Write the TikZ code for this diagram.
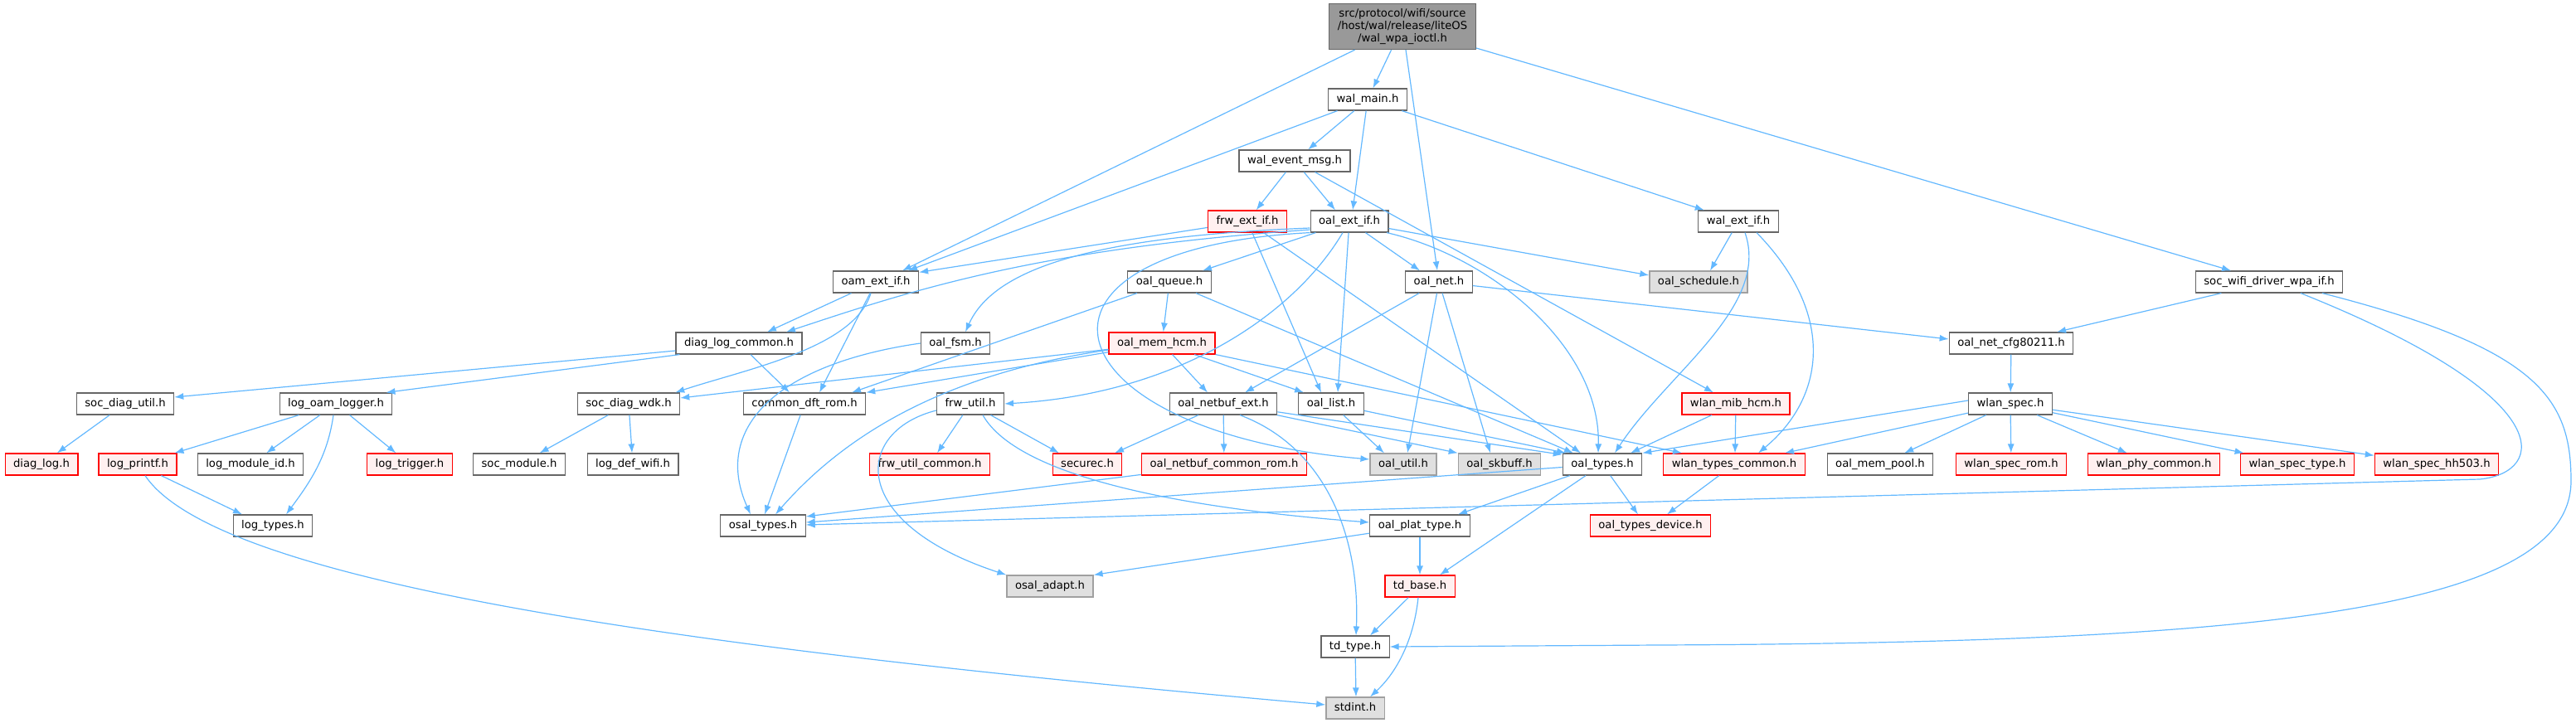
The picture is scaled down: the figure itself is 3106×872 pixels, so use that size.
\documentclass[tikz,border=0pt]{standalone}
\usepackage{fontspec}
\setmainfont{DejaVu Sans}
\usetikzlibrary{arrows.meta}
\definecolor{edgeblue}{HTML}{63B8FF}
\definecolor{boxgrey}{HTML}{666666}
\definecolor{headfill}{HTML}{999999}
\definecolor{redfill}{HTML}{FFF0F0}
\definecolor{extfill}{HTML}{E0E0E0}
\definecolor{extline}{HTML}{A0A0A0}
\tikzset{
  box/.style={draw=boxgrey, fill=white, line width=1.2pt, inner xsep=10pt, inner ysep=0pt,
    font=\fontsize{13.2}{15}\selectfont},
  file/.style={box, minimum height=26pt, text height=10pt, text depth=3pt},
  redfile/.style={file, draw=red, fill=redfill},
  extfile/.style={file, draw=extline, fill=extfill},
  headfile/.style={box, fill=headfill, align=center, minimum width=176pt, minimum height=55pt},
  inc/.style={draw=edgeblue, line width=1.2pt, -{Latex[length=11pt,width=8pt]}}
}
\begin{document}
\begin{tikzpicture}[x=1pt,y=-1pt]
      \useasboundingbox (0,0) rectangle (3106,872);
      \node[headfile] (1) at (1691,32) {src/protocol/wifi/source\\/host/wal/release/liteOS\\/wal\_wpa\_ioctl.h};
      \node[file] (2) at (1649,120) {wal\_main.h};
      \node[file] (3) at (1561,194) {wal\_event\_msg.h};
      \node[redfile] (4) at (1504,267) {frw\_ext\_if.h};
      \node[file] (5) at (1627,267) {oal\_ext\_if.h};
      \node[file] (6) at (2096,267) {wal\_ext\_if.h};
      \node[file] (7) at (1056,340) {oam\_ext\_if.h};
      \node[file] (8) at (1410,340) {oal\_queue.h};
      \node[file] (9) at (1735,340) {oal\_net.h};
      \node[extfile] (10) at (2048,340) {oal\_schedule.h};
      \node[file] (11) at (2736,340) {soc\_wifi\_driver\_wpa\_if.h};
      \node[file] (12) at (891,414) {diag\_log\_common.h};
      \node[file] (13) at (1152,414) {oal\_fsm.h};
      \node[redfile] (14) at (1401,414) {oal\_mem\_hcm.h};
      \node[file] (15) at (2425,414) {oal\_net\_cfg80211.h};
      \node[file] (16) at (151,487) {soc\_diag\_util.h};
      \node[file] (17) at (405,487) {log\_oam\_logger.h};
      \node[file] (18) at (758,487) {soc\_diag\_wdk.h};
      \node[file] (19) at (970,487) {common\_dft\_rom.h};
      \node[file] (20) at (1170,487) {frw\_util.h};
      \node[file] (21) at (1475,487) {oal\_netbuf\_ext.h};
      \node[file] (22) at (1605,487) {oal\_list.h};
      \node[redfile] (23) at (2093,487) {wlan\_mib\_hcm.h};
      \node[file] (24) at (2424,487) {wlan\_spec.h};
      \node[redfile] (25) at (50,560) {diag\_log.h};
      \node[redfile] (26) at (166,560) {log\_printf.h};
      \node[file] (27) at (302,560) {log\_module\_id.h};
      \node[redfile] (28) at (494,560) {log\_trigger.h};
      \node[file] (29) at (626,560) {soc\_module.h};
      \node[file] (30) at (763,560) {log\_def\_wifi.h};
      \node[redfile] (31) at (1121,560) {frw\_util\_common.h};
      \node[redfile] (32) at (1311,560) {securec.h};
      \node[redfile] (33) at (1476,560) {oal\_netbuf\_common\_rom.h};
      \node[extfile] (34) at (1692,560) {oal\_util.h};
      \node[extfile] (35) at (1808,560) {oal\_skbuff.h};
      \node[file] (36) at (1932,560) {oal\_types.h};
      \node[redfile] (37) at (2091,560) {wlan\_types\_common.h};
      \node[file] (38) at (2267,560) {oal\_mem\_pool.h};
      \node[redfile] (39) at (2425,560) {wlan\_spec\_rom.h};
      \node[redfile] (40) at (2597,560) {wlan\_phy\_common.h};
      \node[redfile] (41) at (2770,560) {wlan\_spec\_type.h};
      \node[redfile] (42) at (2938,560) {wlan\_spec\_hh503.h};
      \node[file] (43) at (329,634) {log\_types.h};
      \node[file] (44) at (920,634) {osal\_types.h};
      \node[file] (45) at (1712,634) {oal\_plat\_type.h};
      \node[redfile] (46) at (1990,634) {oal\_types\_device.h};
      \node[extfile] (47) at (1266,707) {osal\_adapt.h};
      \node[redfile] (48) at (1712,707) {td\_base.h};
      \node[file] (49) at (1634,780) {td\_type.h};
      \node[extfile] (50) at (1634,854) {stdint.h};
      \draw[inc] (1) -- ([xshift=32pt]7.north);
      \draw[inc] (1) -- (2);
      \draw[inc] (1) -- (9);
      \draw[inc] (1) -- (11);
      \draw[inc] (2) -- ([xshift=39pt]7.north);
      \draw[inc] (2) -- (3);
      \draw[inc] (2) -- ([xshift=4pt]5.north);
      \draw[inc] (2) -- (6);
      \draw[inc] (3) -- (4);
      \draw[inc] (3) -- ([xshift=-17pt]5.north);
      \draw[inc] (3) -- ([xshift=-27pt]23.north);
      \draw[inc] (6) -- ([xshift=14pt]10.north);
      \draw[inc] ([xshift=8pt]6.south) .. controls (2135,370) and (2010,450) .. ([xshift=15pt]36.north);
      \draw[inc] ([xshift=22pt]6.south) .. controls (2215,380) and (2200,480) .. ([xshift=29pt]37.north);
      \draw[inc] (4) -- ([yshift=-2pt]7.north east);
      \draw[inc] (4) -- ([xshift=-12pt]22.north);
      \draw[inc] (4) -- ([xshift=-26pt]36.north);
      \draw[inc] ([yshift=-8pt]5.west) .. controls (1330,285) and (1200,320) .. ([xshift=12pt]13.north);
      \draw[inc] ([yshift=-10pt]5.west) .. controls (1250,300) and (1100,350) .. ([xshift=57pt]12.north);
      \draw[inc] (5) -- ([xshift=40pt]8.north);
      \draw[inc] ([xshift=-8pt]5.south) .. controls (1560,380) and (1420,475) .. (20.east);
      \draw[inc] (5) -- ([xshift=8pt]22.north);
      \draw[inc] (5) -- ([xshift=-23pt]9.north);
      \draw[inc] (5.south west) .. controls (1200,300) and (1260,520) .. ([yshift=6pt]34.west);
      \draw[inc] ([xshift=45pt]5.south) .. controls (1800,310) and (1930,420) .. ([xshift=-5pt]36.north);
      \draw[inc] (5) -- ([yshift=8pt]10.west);
      \draw[inc] (7) -- ([xshift=34pt]12.north);
      \draw[inc] ([xshift=-6pt]7.south) .. controls (1030,420) and (900,445) .. ([xshift=-6pt]18.north east);
      \draw[inc] (7) -- ([xshift=18pt]19.north);
      \draw[inc] ([yshift=-9pt]12.west) -- ([yshift=8pt]16.east);
      \draw[inc] ([xshift=5pt]12.south west) -- ([xshift=-8pt]17.north east);
      \draw[inc] (12) -- ([xshift=-18pt]19.north);
      \draw[inc] (16) -- (25);
      \draw[inc] (17) -- (26);
      \draw[inc] (17) -- (27);
      \draw[inc] ([xshift=-3pt]17.south) .. controls (395,550) and (375,580) .. ([xshift=16pt]43.north);
      \draw[inc] (17) -- (28);
      \draw[inc] (26) -- ([xshift=-37pt]43.north);
      \draw[inc] ([xshift=9pt]26.south) .. controls (260,700) and (800,780) .. ([yshift=4pt]50.west);
      \draw[inc] (18) -- (29);
      \draw[inc] (18) -- (30);
      \draw[inc] (19) -- ([xshift=2pt]44.north);
      \draw[inc] (13.west) .. controls (930,440) and (860,520) .. ([xshift=-15pt]44.north);
      \draw[inc] (8) -- (14);
      \draw[inc] (8) -- ([xshift=57pt]19.north);
      \draw[inc] (8) -- ([xshift=-35pt]36.north);
      \draw[inc] (14) -- ([yshift=7pt]18.east);
      \draw[inc] (14) -- (19.north east);
      \draw[inc] ([yshift=-8pt]14.west) .. controls (1180,445) and (1040,500) .. ([xshift=15pt]44.north);
      \draw[inc] (14) -- ([xshift=-19pt]21.north);
      \draw[inc] (14) -- ([xshift=-33pt]22.north);
      \draw[inc] (14) -- ([xshift=-63pt]37.north);
      \draw[inc] (9) -- ([xshift=26pt]21.north);
      \draw[inc] (9) -- ([xshift=5pt]34.north);
      \draw[inc] (9) -- ([xshift=-11pt]35.north);
      \draw[inc] (9) -- ([yshift=5pt]15.west);
      \draw[inc] (21) -- ([xshift=33pt]32.north);
      \draw[inc] (21) -- (33);
      \draw[inc] (21) -- (35.north west);
      \draw[inc] (21) -- ([yshift=-2pt]36.north west);
      \draw[inc] ([xshift=20pt]21.south) .. controls (1600,540) and (1640,650) .. ([xshift=1pt]49.north);
      \draw[inc] (22) -- ([xshift=-23pt]34.north);
      \draw[inc] (22) -- ([xshift=-44pt]36.north);
      \draw[inc] (20) -- ([xshift=9pt]31.north);
      \draw[inc] (20) -- ([xshift=-34pt]32.north);
      \draw[inc] ([yshift=-8pt]20.west) .. controls (1030,520) and (1020,630) .. (47.north west);
      \draw[inc] ([xshift=15pt]20.south) .. controls (1230,580) and (1450,615) .. ([yshift=4pt]45.west);
      \draw[inc] (33) -- ([yshift=11pt]44.east);
      \draw[inc] (36) -- ([yshift=4pt]44.east);
      \draw[inc] (36) -- ([xshift=46pt]45.north);
      \draw[inc] (36) -- ([xshift=24pt]48.north);
      \draw[inc] (36) -- ([xshift=-15pt]46.north);
      \draw[inc] (37) -- ([xshift=20pt]46.north);
      \draw[inc] (23) -- ([xshift=34pt]36.north);
      \draw[inc] (23) -- ([xshift=1pt]37.north);
      \draw[inc] (45) -- (47.north east);
      \draw[inc] (45) -- (48);
      \draw[inc] (48) -- ([xshift=18pt]49.north);
      \draw[inc] ([xshift=-2pt]48.south) .. controls (1705,770) and (1685,810) .. ([xshift=18pt]50.north);
      \draw[inc] (49) -- ([xshift=1pt]50.north);
      \draw[inc] (11) -- ([xshift=55pt]15.north);
      \draw[inc] ([xshift=38pt]11.south) .. controls (3090,480) and (3070,570) .. (2990,578) -- ([yshift=1pt]44.east);
      \draw[inc] ([xshift=64pt]11.south) .. controls (3060,420) and (3100,480) .. (3100,580) .. controls (3100,740) and (2700,775) .. (2000,778) -- (49.east);
      \draw[inc] (15) -- (24);
      \draw[inc] ([yshift=4pt]24.west) -- (36.north east);
      \draw[inc] (24) -- ([xshift=61pt]37.north);
      \draw[inc] (24) -- (38);
      \draw[inc] (24) -- (39);
      \draw[inc] (24) -- (40);
      \draw[inc] (24) -- (41);
      \draw[inc] (24) -- (42);
    \end{tikzpicture}
\end{document}
